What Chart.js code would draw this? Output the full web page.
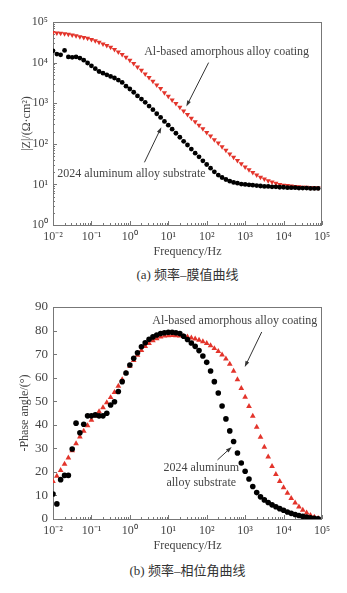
<!DOCTYPE html>
<html>
<head>
<meta charset="utf-8">
<script src="https://cdn.jsdelivr.net/npm/chart.js@4.4.1/dist/chart.umd.min.js"></script>
<style>
  body { margin: 0; background: #fff; width: 347px; height: 593px; position: relative; overflow: hidden; }
  canvas { position: absolute; left: 0; }
  .cap { position: absolute; left: 53px; width: 269px; text-align: center; line-height: 18px;
         font-size: 13px; font-family: "Liberation Serif", "Noto Sans CJK SC", serif; color: #333; }
</style>
</head>
<body>
<canvas id="bode" width="347" height="260" style="top:0"></canvas>
<div class="cap" style="top:266px">(a) 频率–膜值曲线</div>
<canvas id="phase" width="347" height="264" style="top:290px"></canvas>
<div class="cap" style="top:562px">(b) 频率–相位角曲线</div>
<script>
// frequency points, Hz (10 per decade)
const freq = [
  0.01, 0.0126, 0.0158, 0.02, 0.0251, 0.0316, 0.0398, 0.0501, 0.0631, 0.0794,
  0.1, 0.126, 0.158, 0.2, 0.251, 0.316, 0.398, 0.501, 0.631, 0.794,
  1, 1.26, 1.58, 2, 2.51, 3.16, 3.98, 5.01, 6.31, 7.94,
  10, 12.6, 15.8, 20, 25.1, 31.6, 39.8, 50.1, 63.1, 79.4,
  100, 126, 158, 200, 251, 316, 398, 501, 631, 794,
  1000, 1260, 1580, 2000, 2510, 3160, 3980, 5010, 6310, 7940,
  10000, 12600, 15800, 20000, 25100, 31600, 39800, 50100, 63100, 79400
];

// |Z| in ohm·cm2
const zCoating = [
  55000, 53700, 52500, 51300, 50100, 47900, 45700, 43600, 41700, 39800,
  37200, 34700, 31600, 28800, 26300, 24000, 20900, 18200, 15800, 13500,
  11500, 9550, 7760, 6460, 5250, 4270, 3470, 2820, 2290, 1820,
  1480, 1200, 977, 794, 646, 525, 427, 347, 288, 234,
  191, 155, 126, 105, 85.1, 69.2, 56.2, 46.8, 38.9, 32.4,
  26.9, 22.9, 19.5, 17.0, 15.1, 13.5, 12.3, 11.5, 10.7, 10.0,
  9.55, 9.33, 9.12, 8.91, 8.71, 8.51, 8.51, 8.32, 8.32, 8.13
];
const zSubstrate = [
  19500, 16200, 15500, 20000, 13800, 13500, 13800, 12900, 11500, 9770,
  8320, 7080, 6030, 5500, 5010, 4570, 4170, 3720, 3240, 2630,
  2240, 1860, 1510, 1260, 1050, 851, 692, 550, 447, 355,
  288, 229, 182, 145, 115, 93.3, 74.1, 58.9, 47.9, 38.0,
  30.9, 25.1, 20.4, 17.0, 14.8, 13.2, 12.0, 11.2, 10.7, 10.2,
  10.0, 9.77, 9.55, 9.33, 9.12, 8.91, 8.91, 8.71, 8.71, 8.51,
  8.51, 8.32, 8.32, 8.32, 8.13, 8.13, 8.13, 7.94, 7.94, 7.94
];

// -phase angle in degrees
const phaseCoating = [
  16.0, 18.2, 20.7, 23.3, 26.0, 29.0, 32.0, 34.9, 37.3, 39.7,
  42.0, 43.8, 45.6, 47.3, 49.4, 51.6, 53.8, 56.4, 59.2, 62.0,
  64.9, 67.3, 69.6, 71.6, 73.3, 74.6, 75.7, 76.6, 77.3, 77.7,
  77.9, 78.0, 77.9, 77.8, 77.6, 77.3, 76.9, 76.5, 76.0, 75.3,
  74.6, 73.6, 72.4, 71.2, 69.7, 68.0, 65.8, 62.8, 59.2, 55.5,
  51.8, 47.8, 43.7, 39.0, 34.8, 30.5, 26.4, 22.4, 19.0, 16.0,
  13.3, 11.0, 8.8, 6.9, 5.2, 3.8, 2.6, 1.6, 0.8, 0.3
];
const phaseSubstrate = [
  10.6, 6.4, 16.7, 18.5, 18.5, 29.7, 40.7, 36.6, 40.2, 43.8,
  43.8, 44.2, 43.8, 43.8, 44.9, 48.4, 49.8, 54.1, 58.3, 62.0,
  65.4, 68.2, 70.6, 73.1, 74.8, 76.3, 77.3, 78.1, 78.7, 79.1,
  79.3, 79.3, 79.1, 78.7, 77.6, 76.2, 74.7, 73.3, 71.5, 69.2,
  66.5, 62.8, 58.3, 53.5, 48.0, 42.5, 37.4, 32.9, 28.0, 23.8,
  20.3, 17.0, 13.8, 11.2, 9.4, 8.1, 7.0, 6.0, 5.2, 4.4,
  3.7, 3.0, 2.4, 1.9, 1.5, 1.1, 0.8, 0.5, 0.3, 0.1
];

// tick values and labels
const freqTicks = [0.01, 0.1, 1, 10, 100, 1000, 10000, 100000];
const freqTickLabels = ['10⁻²', '10⁻¹', '10⁰', '10¹', '10²', '10³', '10⁴', '10⁵'];
const zTicks = [1, 10, 100, 1000, 10000, 100000];
const zTickLabels = ['10⁰', '10¹', '10²', '10³', '10⁴', '10⁵'];
const phaseTicks = [0, 10, 20, 30, 40, 50, 60, 70, 80, 90];

const coatingName = 'Al-based amorphous alloy coating';
const substrateName = '2024 aluminum alloy substrate';

const SERIF = '"Liberation Serif", "Times New Roman", serif';
const TEXT = '#444';
const RED = '#e3342b';

const pts = (ys) => freq.map((f, i) => ({ x: f, y: ys[i] }));

// decade minor ticks 2..9
function minorTicks(majors) {
  const out = [];
  for (let k = 0; k < majors.length - 1; k++)
    for (let m = 2; m <= 9; m++) out.push(majors[k] * m);
  return out;
}

// box around the plot + inward tick marks
const frame = {
  id: 'frame',
  beforeDatasetsDraw(chart, args, o) {
    const { ctx, chartArea: a, scales: { x, y } } = chart;
    ctx.save();
    ctx.strokeStyle = '#777';
    ctx.lineWidth = 1;
    ctx.strokeRect(Math.round(a.left) + 0.5, Math.round(a.top) + 0.5, Math.round(a.width) - 1, Math.round(a.height));
    const tick = (px, len, vert) => {
      ctx.beginPath();
      if (vert) { const p = Math.round(px) + 0.5; ctx.moveTo(p, a.bottom); ctx.lineTo(p, a.bottom - len); }
      else { const p = Math.round(px) + 0.5; ctx.moveTo(a.left, p); ctx.lineTo(a.left + len, p); }
      ctx.stroke();
    };
    freqTicks.forEach(v => tick(x.getPixelForValue(v), 4, true));
    minorTicks(freqTicks).forEach(v => tick(x.getPixelForValue(v), 2, true));
    o.yMajor.forEach(v => tick(y.getPixelForValue(v), 4, false));
    (o.yMinor || []).forEach(v => tick(y.getPixelForValue(v), 2, false));
    ctx.restore();
  }
};

// text labels and arrows, placed in data units
const notes = {
  id: 'notes',
  afterDatasetsDraw(chart, args, o) {
    const { ctx, scales: { x, y } } = chart;
    ctx.save();
    ctx.font = '12px ' + SERIF;
    ctx.fillStyle = TEXT;
    ctx.textAlign = 'center';
    ctx.textBaseline = 'middle';
    o.labels.forEach(l => ctx.fillText(l.text, x.getPixelForValue(l.x), y.getPixelForValue(l.y)));
    ctx.strokeStyle = '#333';
    ctx.fillStyle = '#333';
    ctx.lineWidth = 1;
    o.arrows.forEach(ar => {
      const x0 = x.getPixelForValue(ar.from[0]), y0 = y.getPixelForValue(ar.from[1]);
      const x1 = x.getPixelForValue(ar.to[0]), y1 = y.getPixelForValue(ar.to[1]);
      const ang = Math.atan2(y1 - y0, x1 - x0);
      ctx.beginPath();
      ctx.moveTo(x0, y0);
      ctx.lineTo(x1 - 5 * Math.cos(ang), y1 - 5 * Math.sin(ang));
      ctx.stroke();
      ctx.beginPath();
      ctx.moveTo(x1, y1);
      ctx.lineTo(x1 - 6 * Math.cos(ang) + 2 * Math.sin(ang), y1 - 6 * Math.sin(ang) - 2 * Math.cos(ang));
      ctx.lineTo(x1 - 6 * Math.cos(ang) - 2 * Math.sin(ang), y1 - 6 * Math.sin(ang) + 2 * Math.cos(ang));
      ctx.closePath();
      ctx.fill();
    });
    ctx.restore();
  }
};

function freqAxis() {
  return {
    type: 'logarithmic',
    min: 0.01,
    max: 100000,
    afterBuildTicks: s => { s.ticks = freqTicks.map(v => ({ value: v })); },
    afterFit: s => { s.height = 35; },
    grid: { display: false, drawTicks: false },
    border: { display: false },
    ticks: {
      autoSkip: false, maxRotation: 0, padding: 5, color: TEXT,
      font: { family: SERIF, size: 12 },
      callback: (v, i) => freqTickLabels[i]
    },
    title: {
      display: true, text: 'Frequency/Hz', color: TEXT,
      font: { family: SERIF, size: 12 }, padding: { top: 0, bottom: 1 }
    }
  };
}

// (a) |Z| vs frequency
new Chart(document.getElementById('bode'), {
  type: 'scatter',
  data: {
    datasets: [
      { label: substrateName, data: pts(zSubstrate), pointStyle: 'circle', pointRadius: 2.4,
        backgroundColor: '#000', borderColor: '#000', borderWidth: 0 },
      { label: coatingName, data: pts(zCoating), pointStyle: 'triangle', pointRotation: 180, pointRadius: 3,
        backgroundColor: RED, borderColor: RED, borderWidth: 0 }
    ]
  },
  options: {
    responsive: false,
    animation: false,
    layout: { padding: { top: 22, right: 25, left: 0, bottom: 0 } },
    scales: {
      x: freqAxis(),
      y: {
        type: 'logarithmic', min: 1, max: 100000,
        afterBuildTicks: s => { s.ticks = zTicks.map(v => ({ value: v })); },
        afterFit: s => { s.width = 53; },
        grid: { display: false, drawTicks: false },
        border: { display: false },
        ticks: { padding: 5, color: TEXT, font: { family: SERIF, size: 12 }, callback: (v, i) => zTickLabels[i] },
        title: {
          display: true, text: '|Z|/(Ω·cm²)', color: TEXT,
          font: { family: SERIF, size: 12 }, padding: { top: 20, bottom: 0 }
        }
      }
    },
    plugins: {
      legend: { display: false },
      tooltip: { enabled: false },
      frame: { yMajor: zTicks, yMinor: minorTicks(zTicks) },
      notes: {
        labels: [
          { text: coatingName, x: 330, y: 18200 },
          { text: substrateName, x: 1.1, y: 17.8 }
        ],
        arrows: [
          { from: [112, 10000], to: [29.5, 830] },
          { from: [2.4, 35], to: [6.6, 257] }
        ]
      }
    }
  },
  plugins: [frame, notes]
});

// (b) phase angle vs frequency
new Chart(document.getElementById('phase'), {
  type: 'scatter',
  data: {
    datasets: [
      { label: substrateName, data: pts(phaseSubstrate), pointStyle: 'circle', pointRadius: 2.8,
        backgroundColor: '#000', borderColor: '#000', borderWidth: 0 },
      { label: coatingName, data: pts(phaseCoating), pointStyle: 'triangle', pointRadius: 3.3,
        backgroundColor: RED, borderColor: RED, borderWidth: 0 }
    ]
  },
  options: {
    responsive: false,
    animation: false,
    layout: { padding: { top: 17, right: 25, left: 0, bottom: 0 } },
    scales: {
      x: freqAxis(),
      y: {
        type: 'linear', min: 0, max: 90,
        afterBuildTicks: s => { s.ticks = phaseTicks.map(v => ({ value: v })); },
        afterFit: s => { s.width = 53; },
        grid: { display: false, drawTicks: false },
        border: { display: false },
        ticks: { padding: 5, color: TEXT, font: { family: SERIF, size: 13 } },
        title: {
          display: true, text: '-Phase angle/(°)', color: TEXT,
          font: { family: SERIF, size: 12 }, padding: { top: 18, bottom: 0 }
        }
      }
    },
    plugins: {
      legend: { display: false },
      tooltip: { enabled: false },
      frame: { yMajor: phaseTicks },
      notes: {
        labels: [
          { text: coatingName, x: 537, y: 84.2 },
          { text: '2024 aluminum', x: 72, y: 21.9 },
          { text: 'alloy substrate', x: 72, y: 15.4 }
        ],
        arrows: [
          { from: [2700, 79.4], to: [977, 64.5] },
          { from: [191, 25.1], to: [447, 30.6] }
        ]
      }
    }
  },
  plugins: [frame, notes]
});
</script>
</body>
</html>
